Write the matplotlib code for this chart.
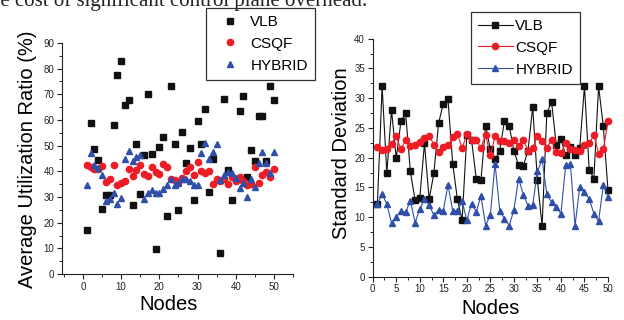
import numpy as np
import matplotlib
matplotlib.use("Agg")
import matplotlib.pyplot as plt
from matplotlib.ticker import MultipleLocator

# ---- data ------------------------------------------------------------------
nodes = list(range(1, 51))

# left panel: average utilization ratio (%)
util_vlb = [17.1, 59.0, 48.6, 44.4, 25.5, 30.9, 30.9, 58.0, 77.7, 83.1,
            66.0, 67.8, 27.0, 50.6, 31.0, 46.2, 70.0, 46.8, 9.6, 49.6,
            53.2, 22.6, 73.2, 50.6, 24.9, 55.3, 43.4, 49.0, 29.0, 59.5,
            50.6, 64.4, 32.0, 44.7, np.nan, 8.0, 68.0, 40.5, 28.8, np.nan,
            63.4, 69.4, 37.7, 48.3, 44.0, 61.5, 61.5, 44.0, 73.2, 67.8]
util_csqf = [42.6, 41.6, 40.8, 41.0, 42.0, 35.8, 37.1, 42.6, 34.5, 35.6,
             36.1, 41.0, 38.2, 40.5, 42.3, 39.0, 38.2, 41.6, 39.7, 39.0,
             42.9, 41.8, 37.1, 36.6, 35.6, 37.4, 40.3, 41.8, 38.4, 43.6,
             40.3, 39.5, 40.0, 35.1, 37.1, 36.1, 37.1, 35.1, 37.7, 36.1,
             37.9, 36.4, 34.5, 35.1, 41.8, 35.3, 38.4, 39.7, 37.9, 40.8]
util_hybrid = [34.5, 47.3, 42.6, 41.3, 38.7, 28.3, 29.4, 31.7, 27.3, 29.6,
               44.7, 48.0, 43.9, 45.7, 46.2, 29.1, 31.4, 32.7, 31.7, 31.4,
               33.2, 34.5, 37.1, 34.8, 35.6, 36.9, 37.1, 36.1, 34.5, 34.5,
               47.3, 51.2, 44.7, 47.5, 50.6, 36.6, 38.7, 39.7, 39.2, 37.4,
               33.5, 35.6, 29.9, 36.9, 34.0, 43.4, 47.5, 43.4, 39.5, 47.5]

# right panel: standard deviation
std_vlb = [12.2, 32.0, 17.4, 28.0, 19.9, 26.1, 27.5, 17.7, 12.9, 13.2,
           22.4, 13.0, 17.4, 25.8, 29.1, 29.8, 19.0, 13.0, 9.5, 23.8,
           23.0, 16.5, 16.2, 25.4, 21.4, 19.7, 21.2, 26.2, 25.4, 21.2,
           18.7, 18.6, 21.2, 28.5, 16.2, 8.5, 27.5, 29.4, 22.2, 23.1,
           20.4, 21.8, 20.4, 21.7, 32.0, 18.0, 16.5, 32.0, 25.3, 14.5]
std_csqf = [21.8, 21.3, 21.5, 22.3, 23.6, 21.4, 22.9, 22.0, 22.1, 22.6,
            23.3, 23.7, 22.2, 21.0, 21.8, 22.1, 23.4, 24.0, 21.6, 23.9,
            22.9, 22.9, 21.7, 23.8, 20.4, 23.6, 22.8, 22.8, 22.4, 23.0,
            22.0, 23.0, 21.2, 21.6, 23.6, 22.8, 21.7, 23.0, 20.9, 20.8,
            22.5, 21.5, 21.3, 21.1, 22.2, 22.4, 23.8, 20.7, 21.4, 26.1]
std_hybrid = [12.2, 13.9, 12.2, 9.0, 10.0, 11.1, 10.8, 12.8, 9.1, 11.3,
              13.1, 12.1, 10.3, 11.2, 11.1, 15.4, 11.1, 11.1, 12.7, 9.5,
              12.3, 10.9, 13.6, 8.6, 10.4, 19.0, 11.1, 9.7, 8.6, 11.2,
              16.5, 13.8, 11.9, 12.0, 17.7, 19.7, 13.9, 12.5, 11.7, 10.6,
              18.7, 19.0, 8.6, 15.1, 14.2, 13.1, 10.6, 9.3, 15.4, 13.4]

BLACK = "#111111"
RED = "#ee1c25"
BLUE = "#2f4fa8"

plt.rcParams["font.family"] = ["Liberation Sans", "DejaVu Sans"]

fig = plt.figure(figsize=(6.24, 3.2), dpi=100)

# stray line of paper text, cut off at the top edge just like in the scan
fig.text(-0.026, 1 - 6 / 320, "the cost of significant control plane overhead.",
         family=["Liberation Serif", "DejaVu Serif"], fontsize=15,
         ha="left", va="baseline", color="#222222")

ax1 = fig.add_axes([62 / 624, 1 - 274 / 320, 231 / 624, 231 / 320])
ax2 = fig.add_axes([372.7 / 624, 1 - 276.7 / 320, 235.3 / 624, 238 / 320])


def style(ax):
    for s in ("top", "right"):
        ax.spines[s].set_visible(False)
    for s in ("left", "bottom"):
        ax.spines[s].set_linewidth(0.8)
        ax.spines[s].set_color("#222222")
    ax.tick_params(which="major", direction="out", length=3.5, width=0.8,
                   labelsize=7, pad=2, colors="#222222")
    ax.tick_params(which="minor", direction="out", length=2, width=0.7,
                   colors="#222222")


def legend(ax, anchor):
    leg = ax.legend(loc="upper left", bbox_to_anchor=anchor,
                    bbox_transform=fig.transFigure, fontsize=11,
                    frameon=True, fancybox=False, framealpha=1,
                    edgecolor="#333333", borderpad=0.45, labelspacing=0.52,
                    handlelength=2.3, handletextpad=0.15, borderaxespad=0)
    leg.get_frame().set_linewidth(0.9)


# ---- left: scatter ----------------------------------------------------------
ax1.plot(nodes, util_vlb, "s", color=BLACK, ms=4, ls="none", label="VLB")
ax1.plot(nodes, util_csqf, "o", color=RED, ms=4.5, ls="none", label="CSQF")
ax1.plot(nodes, util_hybrid, "^", color=BLUE, ms=5, ls="none", label="HYBRID")
ax1.set_xlim(-5.5, 55)
ax1.set_ylim(0, 90)
ax1.xaxis.set_major_locator(MultipleLocator(10))
ax1.xaxis.set_minor_locator(MultipleLocator(5))
ax1.yaxis.set_major_locator(MultipleLocator(10))
ax1.yaxis.set_minor_locator(MultipleLocator(5))
style(ax1)
ax1.set_xlabel("Nodes", fontsize=14.5)
ax1.set_ylabel("Average Utilization Ratio (%)", fontsize=14.5)
ax1.xaxis.set_label_coords(0.463, -0.09)
ax1.yaxis.set_label_coords(-0.108, 0.498)
legend(ax1, (206 / 624, 1 - 8 / 320))

# ---- right: line + markers --------------------------------------------------
ax2.plot(nodes, std_vlb, "-s", color=BLACK, ms=4, lw=0.8, label="VLB")
ax2.plot(nodes, std_csqf, "-o", color=RED, ms=4.5, lw=0.8, label="CSQF")
ax2.plot(nodes, std_hybrid, "-^", color=BLUE, ms=5, lw=0.8, label="HYBRID")
ax2.set_xlim(0, 50)
ax2.set_ylim(0, 40)
ax2.xaxis.set_major_locator(MultipleLocator(5))
ax2.xaxis.set_minor_locator(MultipleLocator(2.5))
ax2.yaxis.set_major_locator(MultipleLocator(5))
ax2.yaxis.set_minor_locator(MultipleLocator(2.5))
style(ax2)
ax2.set_xlabel("Nodes", fontsize=14.5)
ax2.set_ylabel("Standard Deviation", fontsize=14.5)
ax2.xaxis.set_label_coords(0.5, -0.094)
ax2.yaxis.set_label_coords(-0.092, 0.518)
for line in ax2.lines:
    line.set_clip_on(False)
legend(ax2, (471 / 624, 1 - 12 / 320))

fig.savefig("out.png", dpi=100)
